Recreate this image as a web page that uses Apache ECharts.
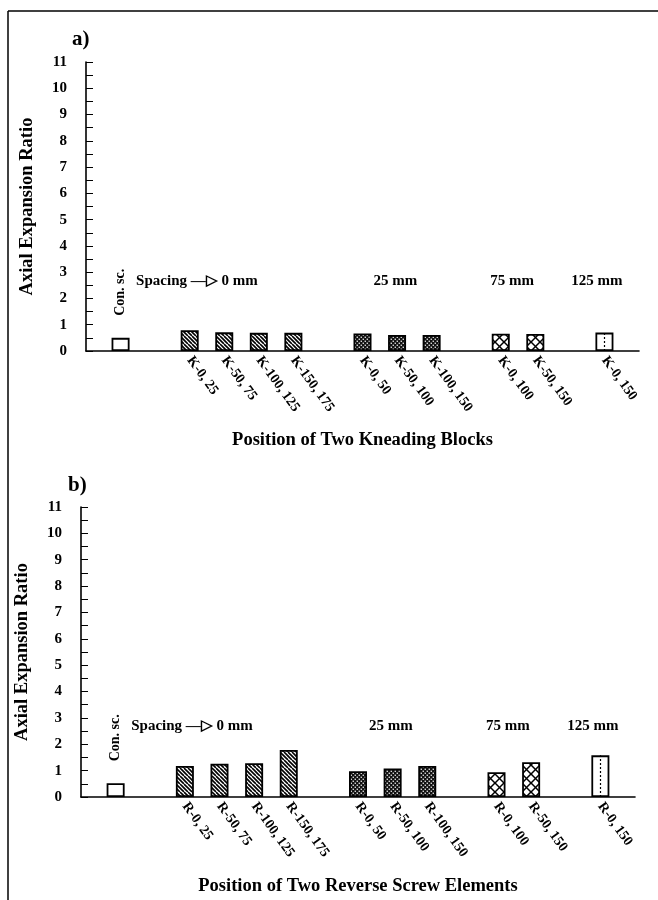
<!DOCTYPE html>
<html>
<head>
<meta charset="utf-8">
<title>Axial Expansion Ratio</title>
<script src="https://cdn.jsdelivr.net/npm/echarts@6/dist/echarts.min.js"></script>
<style>
  html, body { margin: 0; padding: 0; background: #fff; }
  #chart { width: 658px; height: 900px; }
</style>
</head>
<body>
<div id="chart"></div>
<script>
// Category slots along each x axis; empty strings are the gaps between spacing groups.
const categoriesA = ['', 'Con. sc.', '', 'K-0, 25', 'K-50, 75', 'K-100, 125', 'K-150, 175', '',
  'K-0, 50', 'K-50, 100', 'K-100, 150', '', 'K-0, 100', 'K-50, 150', '', 'K-0, 150', ''];
const categoriesB = ['', 'Con. sc.', '', 'R-0, 25', 'R-50, 75', 'R-100, 125', 'R-150, 175', '',
  'R-0, 50', 'R-50, 100', 'R-100, 150', '', 'R-0, 100', 'R-50, 150', '', 'R-0, 150', ''];

// Axial expansion ratio per slot (null = no bar).
const valuesA = [null, 0.50, null, 0.79, 0.71, 0.69, 0.69, null, 0.67, 0.61, 0.61, null, 0.66, 0.65, null, 0.70, null];
const valuesB = [null, 0.52, null, 1.18, 1.26, 1.28, 1.78, null, 0.98, 1.08, 1.18, null, 0.94, 1.32, null, 1.58, null];

// Fill style of each slot: conventional screw, then spacing 0 / 25 / 75 / 125 mm.
const fillKinds = ['', 'plain', '', 'hatch', 'hatch', 'hatch', 'hatch', '', 'dots', 'dots', 'dots', '', 'cross', 'cross', '', 'dotline', ''];

const yTicks = [0, 11, 1];               // min, max, interval
const controlName = 'Con. sc.';
const spacingTexts = ['Spacing \u2014\u25B7 0 mm', '25 mm', '75 mm', '125 mm'];
const panelNames = ['a)', 'b)'];
const axisTitlesX = ['Position of Two Kneading Blocks', 'Position of Two Reverse Screw Elements'];
const axisTitleY = 'Axial Expansion Ratio';

const FONT = 'Liberation Serif, Times New Roman, serif';

function makePattern(kind) {
  const c = document.createElement('canvas');
  const g = c.getContext('2d');
  if (kind === 'hatch') {
    c.width = 8; c.height = 8;
    g.fillStyle = '#fff'; g.fillRect(0, 0, 8, 8);
    g.strokeStyle = '#000'; g.lineWidth = 1.6;
    for (let o = -8; o <= 8; o += 4) {
      g.beginPath(); g.moveTo(o, 0); g.lineTo(o + 8, 8); g.stroke();
    }
  } else if (kind === 'dots') {
    c.width = 4; c.height = 4;
    g.fillStyle = '#111'; g.fillRect(0, 0, 4, 4);
    g.fillStyle = '#fff';
    g.fillRect(0.6, 0.6, 1.3, 1.3);
    g.fillRect(2.6, 2.6, 1.3, 1.3);
  } else if (kind === 'cross') {
    c.width = 9; c.height = 9;
    g.fillStyle = '#fff'; g.fillRect(0, 0, 9, 9);
    g.strokeStyle = '#000'; g.lineWidth = 1.5;
    g.beginPath(); g.moveTo(0, 0); g.lineTo(9, 9); g.stroke();
    g.beginPath(); g.moveTo(9, 0); g.lineTo(0, 9); g.stroke();
  } else {
    c.width = 2; c.height = 2;
    g.fillStyle = '#fff'; g.fillRect(0, 0, 2, 2);
  }
  return { image: c, repeat: 'repeat' };
}

const patterns = {};
['plain', 'hatch', 'dots', 'cross', 'dotline'].forEach(k => { patterns[k] = makePattern(k); });

function barData(categories, values) {
  return values.map((v, i) => {
    if (v === null) return null;
    const item = {
      value: v,
      itemStyle: { color: patterns[fillKinds[i]] }
    };
    if (categories[i] === controlName) {
      item.label = {
        show: true, formatter: controlName, position: 'top', distance: 22,
        rotate: 90, align: 'left', verticalAlign: 'middle',
        fontFamily: FONT, fontWeight: 'bold', fontSize: 14, color: '#000'
      };
    }
    return item;
  });
}

function dottedCentre(categories, values) {
  const i = fillKinds.indexOf('dotline');
  return {
    silent: true,
    symbol: ['none', 'none'],
    label: { show: false },
    lineStyle: { color: '#000', type: [2, 2], width: 1.2 },
    data: [[{ coord: [i, 0] }, { coord: [i, values[i]] }]]
  };
}

const grids = [
  { left: 86, top: 62, width: 553, height: 289 },
  { left: 81, top: 507, width: 554, height: 290 }
];

function xAxisFor(idx, categories) {
  return {
    type: 'category', gridIndex: idx, data: categories, boundaryGap: false,
    axisLine: { lineStyle: { color: '#000', width: 1.6 } },
    axisTick: { show: false },
    axisLabel: {
      interval: 0, rotate: -54, margin: 7,
      fontFamily: FONT, fontWeight: 'bold', fontSize: 14, color: '#000',
      formatter: v => (v === controlName ? '' : v)
    },
    name: axisTitlesX[idx], nameLocation: 'middle', nameGap: 80,
    nameTextStyle: { fontFamily: FONT, fontSize: 18.5, fontWeight: 'bold', color: '#000' },
    splitLine: { show: false }
  };
}

function yAxisFor(idx) {
  return {
    type: 'value', gridIndex: idx, min: yTicks[0], max: yTicks[1], interval: yTicks[2],
    axisLine: { show: true, lineStyle: { color: '#000', width: 1.6 } },
    axisTick: { show: true, inside: true, length: 7, lineStyle: { color: '#000', width: 1 } },
    minorTick: { show: true, splitNumber: 2, length: 7, lineStyle: { color: '#000', width: 1 } },
    splitLine: { show: false },
    minorSplitLine: { show: false },
    axisLabel: { margin: 19, fontFamily: FONT, fontWeight: 'bold', fontSize: 15, color: '#000' },
    name: axisTitleY, nameLocation: 'middle', nameGap: 49,
    nameTextStyle: { fontFamily: FONT, fontSize: 18.5, fontWeight: 'bold', color: '#000' }
  };
}

function barSeries(idx, categories, values) {
  return {
    type: 'bar', xAxisIndex: idx, yAxisIndex: idx,
    barWidth: 18,
    itemStyle: { borderColor: '#000', borderWidth: 1.8 },
    data: barData(categories, values),
    markLine: dottedCentre(categories, values),
    animation: false
  };
}

const chart = echarts.init(document.getElementById('chart'), null, { renderer: 'canvas' });

const frame = [
  { type: 'line', shape: { x1: 8, y1: 11, x2: 658, y2: 11 }, style: { stroke: '#000', lineWidth: 1.5 } },
  { type: 'line', shape: { x1: 8, y1: 11, x2: 8, y2: 900 }, style: { stroke: '#000', lineWidth: 1.5 } }
];

chart.setOption({
  backgroundColor: '#fff',
  animation: false,
  title: [
    { text: panelNames[0], left: 67, top: 24, textStyle: { fontFamily: FONT, fontWeight: 'bold', fontSize: 21, color: '#000' } },
    { text: panelNames[1], left: 63, top: 470, textStyle: { fontFamily: FONT, fontWeight: 'bold', fontSize: 21, color: '#000' } }
  ],
  grid: grids,
  xAxis: [xAxisFor(0, categoriesA), xAxisFor(1, categoriesB)],
  yAxis: [yAxisFor(0), yAxisFor(1)],
  series: [barSeries(0, categoriesA, valuesA), barSeries(1, categoriesB, valuesB)],
  graphic: frame
});

// Spacing group captions, placed in axis units (fractional slot index, ratio value).
function toPixel(gridIdx, slot, y) {
  const i0 = Math.floor(slot);
  const p0 = chart.convertToPixel({ xAxisIndex: gridIdx, yAxisIndex: gridIdx }, [i0, y]);
  const p1 = chart.convertToPixel({ xAxisIndex: gridIdx, yAxisIndex: gridIdx }, [i0 + 1, y]);
  return [p0[0] + (slot - i0) * (p1[0] - p0[0]), p0[1]];
}

const captionSlots = [[1.45, 'left'], [8.95, 'center'], [12.33, 'center'], [14.78, 'center']];
const captions = [];
[0, 1].forEach(g => {
  captionSlots.forEach((s, k) => {
    const p = toPixel(g, s[0], 2.67);
    captions.push({
      type: 'text', x: p[0], y: p[1],
      style: {
        text: spacingTexts[k], align: s[1], verticalAlign: 'middle',
        font: 'bold 15px ' + FONT, fill: '#000'
      }
    });
  });
});

chart.setOption({ graphic: frame.concat(captions) });
</script>
</body>
</html>
